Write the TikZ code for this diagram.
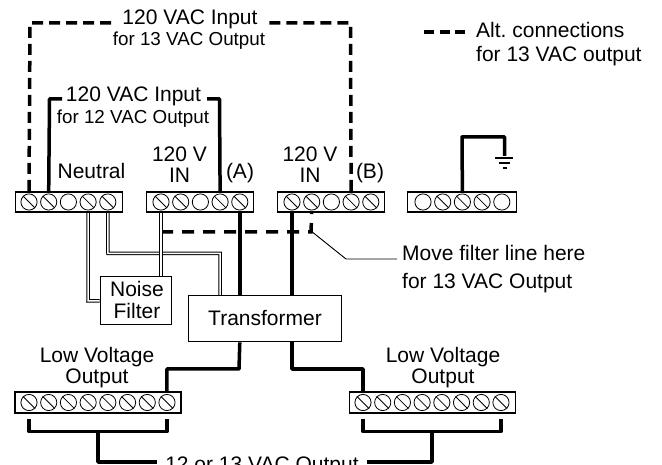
\documentclass[tikz,border=0pt]{standalone}
\usepackage{fontspec}
\setmainfont{Liberation Sans}
\tikzset{
    txt/.style={font=\fontsize{21}{21}\selectfont,inner sep=0pt,anchor=base,align=center},
    smalltxt/.style={txt,font=\fontsize{18.8}{21}\selectfont},
    termblock/.style={draw,line width=1.7pt,fill=white,minimum height=20.5pt,inner sep=0pt},
    screw/.style={draw,circle,line width=0.8pt,minimum size=16.2pt,inner sep=0pt},
    box/.style={draw,line width=1.6pt,fill=white,inner sep=0pt},
    wire/.style={line width=3.5pt,line join=round},
    altwire/.style={line width=3.5pt,dash pattern=on 11pt off 6pt},
    filterwire/.style={draw,double=white,line width=1pt,double distance=1.5pt},
}
\begin{document}
\begin{tikzpicture}[x=1pt,y=-1pt]
    \clip (0,0) rectangle (662,465);
    \node[termblock,minimum width=107pt] (neutral) at (69,202) {};
    \node[termblock,minimum width=107pt] (ina) at (200,202) {};
    \node[termblock,minimum width=107pt] (inb) at (331,202) {};
    \node[termblock,minimum width=109pt] (gnd) at (462,202) {};
    \node[termblock,minimum width=166pt] (lowl) at (98,402.5) {};
    \node[termblock,minimum width=166pt] (lowr) at (432.5,402.5) {};
    \foreach \bk/\xa/\slots in {neutral/29/{1,2,4,5},ina/161/{1,2,4,5},inb/292/{1,2,4,5},gnd/423/{2,3,4}}{
        \foreach \i in {1,...,5}{
            \node[screw] (\bk\i) at ({\xa+(\i-1)*19.7},202) {};
        }
        \foreach \i in \slots{
            \draw[line width=0.8pt] (\bk\i.135)--(\bk\i.-45);
        }
    }
    \foreach \bk/\xa in {lowl/29,lowr/363}{
        \foreach \i in {1,...,8}{
            \node[screw] (\bk\i) at ({\xa+(\i-1)*19.71},402.5) {};
            \draw[line width=0.8pt] (\bk\i.135)--(\bk\i.-45);
        }
    }
    \node[box,minimum width=71pt,minimum height=48pt] (filter) at (136,300.5) {};
    \node[box,minimum width=153pt,minimum height=46pt] (trans) at (265,318.5) {};
    \node[txt] (filterlbl) at (137,319) {Noise\\[1pt]Filter};
    \node[txt] (translbl) at (265,326) {Transformer};
    % input labels
    \node[txt] (alttop) at (190,25) {120 VAC Input};
    \node[smalltxt] (altsub) at (189,46) {for 13 VAC Output};
    \node[txt] (stdtop) at (133.5,102) {120 VAC Input};
    \node[smalltxt] (stdsub) at (133,124) {for 12 VAC Output};
    \node[txt] (neutrallbl) at (91.5,179) {Neutral};
    \node[txt] (inalbl) at (179.5,183) {120 V\\IN};
    \node[txt] (inblbl) at (310,183) {120 V\\IN};
    \node[txt] (albl) at (240,179) {(A)};
    \node[txt] (blbl) at (370,179) {(B)};
    \node[txt] (lowllbl) at (97,384) {Low Voltage\\Output};
    \node[txt] (lowrlbl) at (443,384) {Low Voltage\\Output};
    \node[txt] (outlbl) at (262,471) {12 or 13 VAC Output};
    \node[txt,align=left,anchor=base west] (legend) at (476,62) {Alt.\ connections\\[3pt]for 13 VAC output};
    \node[txt,align=left,anchor=base west] (movelbl) at (402,289) {Move filter line here\\[7pt]for 13 VAC Output};
    % wires
    \draw[wire] (neutral2 |- neutral.north)--(49.5,99)--(62,99);
    \draw[wire] (207,99)--(219.5,99)--(ina4 |- ina.north);
    \draw[wire] (ina5 |- ina.south)--(ina5 |- trans.north);
    \draw[wire] (inb1 |- inb.south)--(inb1 |- trans.north);
    \draw[wire] (ina5 |- trans.south)--(239,369)--(lowl8 |- 0,369)--(lowl8 |- lowl.north);
    \draw[wire] (inb1 |- trans.south)--(292,369)--(lowr1 |- 0,369)--(lowr1 |- lowr.north);
    \draw[wire] (29,419)--(29,431.5)--(167,431.5)--(167,419);
    \draw[wire] (363,419)--(363,431.5)--(501,431.5)--(501,419);
    \draw[wire] (98,431.5)--(98,462)--(157,462);
    \draw[wire] (432,431.5)--(432,462)--(367,462);
    \draw[wire] (gnd3 |- gnd.north)--(462,137)--(504.5,137)--(504.5,156);
    \draw[line width=1.5pt] (495,158)--(513,158);
    \draw[line width=1.5pt] (499,163)--(510,163);
    \draw[line width=1.5pt] (502.5,168)--(506.5,168);
    % alternate wires
    \draw[altwire] (neutral1 |- neutral.north)--(30,23)--(113,23);
    \draw[altwire] (inb4 |- inb.north)--(350.5,23)--(267,23);
    \draw[altwire,dash pattern=on 12pt off 9pt] (161,232)--(311,232)--(inb2 |- inb.south);
    \draw[line width=3.5pt,dash pattern=on 10pt off 5.5pt] (424,32)--(465,32);
    \draw[line width=0.9pt] (311,231)--(346,259)--(397,259);
    % filter wires
    \draw[filterwire] (neutral4 |- neutral.south)--(88,301)--(filter.west |- 0,301);
    \draw[filterwire] (neutral5 |- neutral.south)--(108,253.5)--(220,253.5)--(220,295);
    \draw[filterwire] (ina1 |- ina.south)--(ina1 |- filter.north);
\end{tikzpicture}
\end{document}
